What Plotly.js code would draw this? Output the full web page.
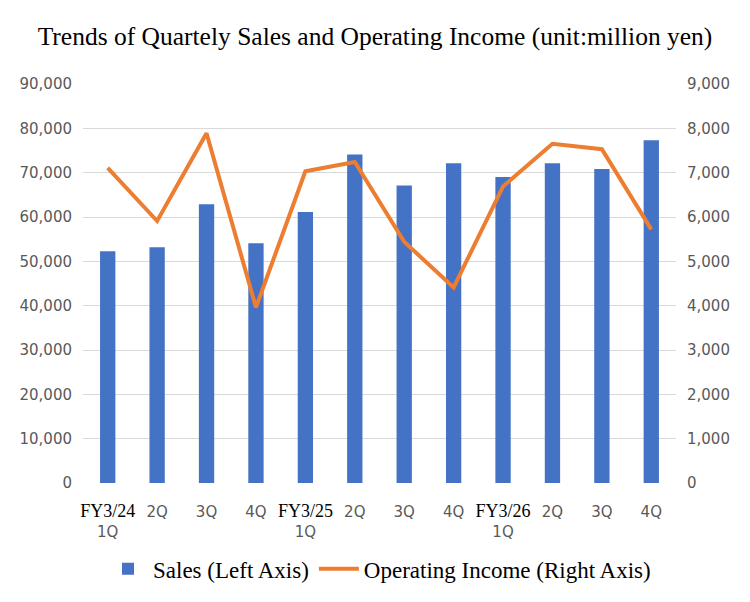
<!DOCTYPE html>
<html>
<head>
<meta charset="utf-8">
<script src="https://cdn.plot.ly/plotly-3.0.1.min.js"></script>
<style>
  body { margin: 0; background: #fff; }
  #chart { width: 750px; height: 602px; }
</style>
</head>
<body>
<div id="chart"></div>
<script>
const quarters = ['FY3/24 1Q', 'FY3/24 2Q', 'FY3/24 3Q', 'FY3/24 4Q', 'FY3/25 1Q', 'FY3/25 2Q', 'FY3/25 3Q', 'FY3/25 4Q', 'FY3/26 1Q', 'FY3/26 2Q', 'FY3/26 3Q', 'FY3/26 4Q']
const fyLabels = ['FY3/24', '', '', '', 'FY3/25', '', '', '', 'FY3/26', '', '', '']
const qLabels = ['1Q', '2Q', '3Q', '4Q', '1Q', '2Q', '3Q', '4Q', '1Q', '2Q', '3Q', '4Q']
const sales = [52300, 53200, 62900, 54100, 61100, 74100, 67100, 72100, 69000, 72100, 70800, 77300]
const opIncome = [7110, 5910, 7890, 3960, 7030, 7240, 5440, 4410, 6690, 7650, 7530, 5720]

const SERIF = '"Liberation Serif", "Times New Roman", serif'
const SANS = '"DejaVu Sans", "Noto Sans", sans-serif'

// FY part is serif + black, quarter part stays in the gray tick font
const tickText = quarters.map((q, i) => {
  if (fyLabels[i]) {
    return '<span style="font-family:\'Liberation Serif\';color:#000;font-size:18px">' +
      fyLabels[i] + '</span><br>' + qLabels[i]
  }
  return qLabels[i]
})

let data = [
  {
    name: 'Sales (Left Axis)',
    x: quarters,
    y: sales,
    type: 'bar',
    width: 0.31,
    marker: { color: '#4472C4' },
    yaxis: 'y'
  },
  {
    name: 'Operating Income (Right Axis)',
    x: quarters,
    y: opIncome,
    type: 'scatter',
    mode: 'lines',
    line: { color: '#ED7D31', width: 4 },
    yaxis: 'y2'
  }
]

let tickFont = { family: SANS, size: 15, color: '#595959' }

let layout = {
  width: 750,
  height: 602,
  paper_bgcolor: '#fff',
  plot_bgcolor: '#fff',
  font: { family: SANS, size: 15, color: '#595959' },
  title: {
    text: 'Trends of Quartely Sales and Operating Income (unit:million yen)',
    font: { family: SERIF, size: 25.5, color: '#000' },
    x: 0.5,
    xanchor: 'center',
    y: 0.94,
    yanchor: 'middle'
  },
  showlegend: true,
  legend: {
    orientation: 'h',
    x: 0.5,
    xanchor: 'center',
    y: -0.215,
    yanchor: 'middle',
    font: { family: SERIF, size: 23, color: '#000' },
    itemwidth: 40,
    traceorder: 'normal'
  },
  xaxis: {
    type: 'category',
    tickmode: 'array',
    tickvals: quarters,
    ticktext: tickText,
    tickangle: 0,
    showgrid: false,
    zeroline: false,
    showline: false,
    ticks: '',
    ticklabelstandoff: 18,
    tickfont: tickFont,
    fixedrange: true
  },
  yaxis: {
    range: [0, 90000],
    dtick: 10000,
    tickformat: ',d',
    showgrid: true,
    gridcolor: '#d9d9d9',
    gridwidth: 1,
    zeroline: false,
    showline: false,
    ticks: '',
    ticklabelstandoff: 10,
    tickfont: tickFont,
    fixedrange: true
  },
  yaxis2: {
    range: [0, 9000],
    dtick: 1000,
    tickformat: ',d',
    overlaying: 'y',
    side: 'right',
    showgrid: false,
    zeroline: false,
    showline: false,
    ticks: '',
    ticklabelstandoff: 10,
    tickfont: tickFont,
    fixedrange: true
  },
  margin: { l: 83, r: 74, t: 84, b: 119 }
}

let config = { displayModeBar: false, responsive: false }
Plotly.newPlot('chart', data, layout, config)
</script>
</body>
</html>
